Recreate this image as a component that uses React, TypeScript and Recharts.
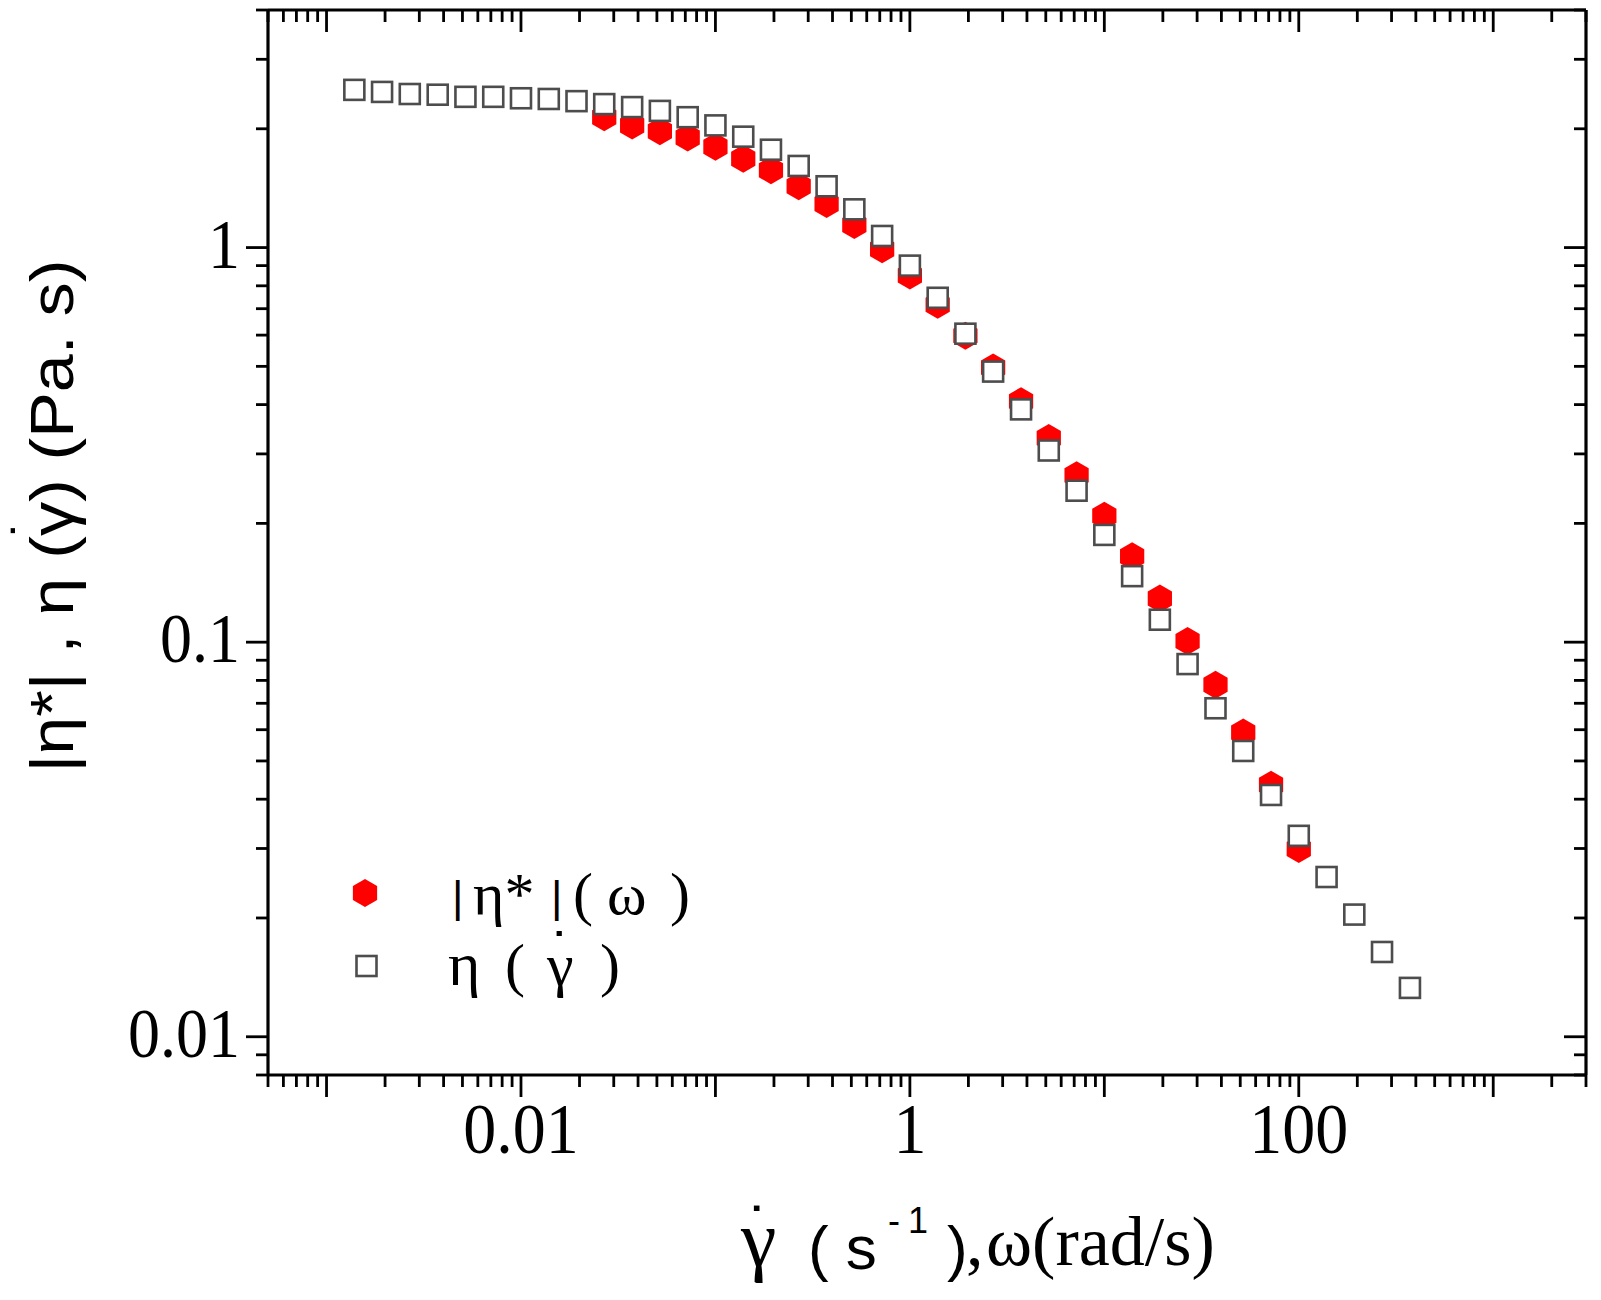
import React from 'react';
import { ScatterChart, Scatter, XAxis, YAxis, Legend } from 'recharts';

// shear rate / angular frequency values (s^-1, rad/s)
const RATE_X = [
  0.00139, 0.00193, 0.00268, 0.00373, 0.00518, 0.0072, 0.01, 0.0139, 0.0193, 0.0268,
  0.0373, 0.0518, 0.072, 0.1, 0.139, 0.193, 0.268, 0.373, 0.518, 0.72,
  1, 1.39, 1.93, 2.68, 3.73, 5.18, 7.2, 10, 13.9, 19.3,
  26.8, 37.3, 51.8, 72, 100, 139, 193, 268, 373,
];
// steady shear viscosity eta(gamma dot) (Pa.s)
const ETA_STEADY = [
  2.51, 2.48, 2.45, 2.44, 2.41, 2.41, 2.39, 2.38, 2.35, 2.31,
  2.27, 2.22, 2.14, 2.04, 1.91, 1.77, 1.61, 1.43, 1.25, 1.07,
  0.9, 0.746, 0.605, 0.485, 0.389, 0.306, 0.242, 0.187, 0.147, 0.114,
  0.088, 0.068, 0.053, 0.041, 0.0323, 0.0254, 0.0204, 0.0164, 0.0133,
];
const OMEGA_X = [
  0.0268, 0.0373, 0.0518, 0.072, 0.1, 0.139, 0.193, 0.268, 0.373, 0.518,
  0.72, 1, 1.39, 1.93, 2.68, 3.73, 5.18, 7.2, 10, 13.9,
  19.3, 26.8, 37.3, 51.8, 72, 100,
];
// complex viscosity |eta*|(omega) (Pa.s)
const ETA_COMPLEX = [
  2.14, 2.04, 1.97, 1.9, 1.8, 1.68, 1.57, 1.43, 1.29, 1.14,
  0.99, 0.85, 0.716, 0.598, 0.497, 0.408, 0.329, 0.265, 0.209, 0.165,
  0.129, 0.1007, 0.078, 0.059, 0.0435, 0.0299,
];

const X_DECADES = [0.0001, 0.001, 0.01, 0.1, 1, 10, 100, 1000];
const Y_DECADES = [0.001, 0.01, 0.1, 1];
const X_LABELS: Record<string, string> = { '0.01': '0.01', '1': '1', '100': '100' };
const Y_LABELS: Record<string, string> = { '0.01': '0.01', '0.1': '0.1', '1': '1' };
const X_DOMAIN: [number, number] = [0.0005, 3000];
const Y_DOMAIN: [number, number] = [0.008, 4];

const MULTS = [1, 2, 3, 4, 5, 6, 7, 8, 9];
const buildTicks = (decades: number[], dom: [number, number]) => {
  const out: number[] = [];
  decades.forEach((d) => MULTS.forEach((m) => {
    const v = parseFloat((d * m).toPrecision(6));
    if (v >= dom[0] * 0.9999 && v <= dom[1] * 1.0001) out.push(v);
  }));
  return out;
};
const X_TICKS = buildTicks(X_DECADES, X_DOMAIN);
const Y_TICKS = buildTicks(Y_DECADES, Y_DOMAIN);

const steadyData = RATE_X.map((x, i) => ({ x, y: ETA_STEADY[i] }));
const complexData = OMEGA_X.map((x, i) => ({ x, y: ETA_COMPLEX[i] }));

const isMajor = (v: number) => {
  const l = Math.log10(v);
  return Math.abs(l - Math.round(l)) < 1e-6;
};
const keyOf = (v: number) => String(parseFloat(v.toPrecision(6)));

const MAJOR = 22;
const MINOR = 12;
const TICK_W = 2.8;
const AXIS_W = 3.2;
const SERIF = '"Liberation Serif", "Times New Roman", serif';
const SANS = '"Liberation Sans", Arial, sans-serif';
const STRETCH = 1.1;
const DOT = '\u02D9';

const BottomTick = (p: any) => {
  const { x, y, payload } = p;
  const v = payload.value;
  const len = isMajor(v) ? MAJOR : MINOR;
  const lab = X_LABELS[keyOf(v)];
  return (
    <g>
      <line x1={x} x2={x} y1={y} y2={y + len} stroke="#000" strokeWidth={TICK_W} />
      {lab && (
        <g transform={`translate(${x}, ${y + 78}) scale(1, ${STRETCH})`}>
          <text x={0} y={0} textAnchor="middle" fontFamily={SERIF} fontSize={66} fill="#000">
            {lab}
          </text>
        </g>
      )}
    </g>
  );
};
const TopTick = (p: any) => {
  const { x, y, payload } = p;
  const len = isMajor(payload.value) ? MAJOR : MINOR;
  return <line x1={x} x2={x} y1={y} y2={y + len} stroke="#000" strokeWidth={TICK_W} />;
};
const LeftTick = (p: any) => {
  const { x, y, payload } = p;
  const v = payload.value;
  const len = isMajor(v) ? MAJOR : MINOR;
  const lab = Y_LABELS[keyOf(v)];
  return (
    <g>
      <line x1={x} x2={x - len} y1={y} y2={y} stroke="#000" strokeWidth={TICK_W} />
      {lab && (
        <g transform={`translate(${x - 28}, ${y + 20}) scale(1, ${STRETCH})`}>
          <text x={0} y={0} textAnchor="end" fontFamily={SERIF} fontSize={64} fill="#000">
            {lab}
          </text>
        </g>
      )}
    </g>
  );
};
const RightTick = (p: any) => {
  const { x, y, payload } = p;
  const len = isMajor(payload.value) ? MAJOR : MINOR;
  return <line x1={x} x2={x - len} y1={y} y2={y} stroke="#000" strokeWidth={TICK_W} />;
};

const hexPoints = (cx: number, cy: number, r: number) => {
  const pts: string[] = [];
  for (let i = 0; i < 6; i++) {
    const a = (Math.PI / 180) * (60 * i - 90);
    pts.push(`${cx + r * Math.cos(a)},${cy + r * Math.sin(a)}`);
  }
  return pts.join(' ');
};
const HEX_R = 14;
const Hexagon = (p: any) => {
  const { cx, cy } = p;
  if (cx == null || cy == null) return null;
  return <polygon points={hexPoints(cx, cy, HEX_R)} fill="#ff0000" stroke="none" />;
};
const OpenSquare = (p: any) => {
  const { cx, cy } = p;
  if (cx == null || cy == null) return null;
  return <rect x={cx - 10} y={cy - 10} width={20} height={20} fill="#ffffff" stroke="#4d4d4d" strokeWidth={2.6} />;
};

const XTitle = (p: any) => {
  const vb = p.viewBox || { x: 0, y: 1075 };
  const b = vb.y; // plot bottom (chart coords)
  return (
    <text fill="#000">
      <tspan x={741} y={b + 191} fontFamily={SERIF} fontSize={80}>{'\u03B3'}</tspan>
      <tspan x={749} y={b + 178} fontFamily={SANS} fontSize={64}>{DOT}</tspan>
      <tspan x={808} y={b + 194} fontFamily={SANS} fontSize={62}>{'( s'}</tspan>
      <tspan x={888} y={b + 158} fontFamily={SANS} fontSize={36}>{'-'}</tspan>
      <tspan x={908} y={b + 158} fontFamily={SANS} fontSize={36}>{'1'}</tspan>
      <tspan x={947} y={b + 194} fontFamily={SANS} fontSize={62}>{')'}</tspan>
      <tspan x={966} y={b + 190} fontFamily={SERIF} fontSize={70}>{','}</tspan>
      <tspan x={986} y={b + 190} fontFamily={SERIF} fontSize={70}>{'\u03C9(rad/s)'}</tspan>
    </text>
  );
};
const YTitle = () => (
  <g transform="translate(73, 516) rotate(-90) scale(1.1, 1)">
    <text textAnchor="middle" fontFamily={SANS} fontSize={62} fill="#000">
      <tspan x={0} y={0}>{'|\u03B7*| , \u03B7 (\u03B3)  (Pa. s)'}</tspan>
      <tspan x={-11} y={-25} fontSize={52}>{DOT}</tspan>
    </text>
  </g>
);

const LegendBox = () => (
  <svg width={420} height={170} style={{ display: 'block', overflow: 'visible' }}>
    <polygon points={hexPoints(37, 45, HEX_R)} fill="#ff0000" />
    <text fill="#000">
      <tspan x={124} y={64} fontFamily={SANS} fontSize={44}>{'|'}</tspan>
      <tspan x={145} y={66} fontFamily={SERIF} fontSize={60}>{'\u03B7*'}</tspan>
      <tspan x={223} y={64} fontFamily={SANS} fontSize={44}>{'|'}</tspan>
      <tspan x={245} y={66} fontFamily={SERIF} fontSize={60}>{'('}</tspan>
      <tspan x={279} y={66} fontFamily={SERIF} fontSize={60}>{'\u03C9'}</tspan>
      <tspan x={342} y={66} fontFamily={SERIF} fontSize={60}>{')'}</tspan>
    </text>
    <rect x={28.5} y={108} width={20} height={20} fill="#fff" stroke="#4d4d4d" strokeWidth={2.6} />
    <text fill="#000">
      <tspan x={120} y={137} fontFamily={SERIF} fontSize={62}>{'\u03B7'}</tspan>
      <tspan x={177} y={137} fontFamily={SERIF} fontSize={60}>{'('}</tspan>
      <tspan x={219} y={137} fontFamily={SERIF} fontSize={60}>{'\u03B3'}</tspan>
      <tspan x={272} y={137} fontFamily={SERIF} fontSize={60}>{')'}</tspan>
      <tspan x={224} y={126} fontFamily={SANS} fontSize={60}>{DOT}</tspan>
    </text>
  </svg>
);

export default function App() {
  return (
    <div style={{ position: 'absolute', left: 0, top: 0, width: 1601, height: 1300, background: '#fff' }}>
      <ScatterChart width={1601} height={1300} margin={{ top: 9, right: 14, bottom: 0, left: 0 }}>
        <XAxis
          xAxisId="b"
          dataKey="x"
          type="number"
          scale="log"
          domain={X_DOMAIN}
          allowDataOverflow
          ticks={X_TICKS}
          interval={0}
          tick={<BottomTick />}
          tickLine={false}
          tickSize={0}
          tickMargin={0}
          axisLine={{ stroke: '#000', strokeWidth: AXIS_W }}
          height={225}
          orientation="bottom"
          label={{ content: <XTitle /> }}
        />
        <XAxis
          xAxisId="t"
          dataKey="x"
          type="number"
          scale="log"
          domain={X_DOMAIN}
          allowDataOverflow
          ticks={X_TICKS}
          interval={0}
          tick={<TopTick />}
          tickLine={false}
          tickSize={0}
          tickMargin={0}
          axisLine={{ stroke: '#000', strokeWidth: AXIS_W }}
          height={1}
          orientation="top"
        />
        <YAxis
          yAxisId="l"
          dataKey="y"
          type="number"
          scale="log"
          domain={Y_DOMAIN}
          allowDataOverflow
          ticks={Y_TICKS}
          interval={0}
          tick={<LeftTick />}
          tickLine={false}
          tickSize={0}
          tickMargin={0}
          axisLine={{ stroke: '#000', strokeWidth: AXIS_W }}
          width={268}
          orientation="left"
          label={{ content: <YTitle /> }}
        />
        <YAxis
          yAxisId="r"
          dataKey="y"
          type="number"
          scale="log"
          domain={Y_DOMAIN}
          allowDataOverflow
          ticks={Y_TICKS}
          interval={0}
          tick={<RightTick />}
          tickLine={false}
          tickSize={0}
          tickMargin={0}
          axisLine={{ stroke: '#000', strokeWidth: AXIS_W }}
          width={1}
          orientation="right"
        />
        <Legend
          layout="vertical"
          align="center"
          verticalAlign="middle"
          content={<LegendBox />}
          wrapperStyle={{ position: 'absolute', left: 328, top: 848, width: 420, height: 170 }}
        />
        <Scatter
          name="|η*| (ω)"
          data={complexData}
          xAxisId="b"
          yAxisId="l"
          shape={<Hexagon />}
          isAnimationActive={false}
        />
        <Scatter
          name="η (γ̇)"
          data={steadyData}
          xAxisId="b"
          yAxisId="l"
          shape={<OpenSquare />}
          isAnimationActive={false}
        />
      </ScatterChart>
    </div>
  );
}
